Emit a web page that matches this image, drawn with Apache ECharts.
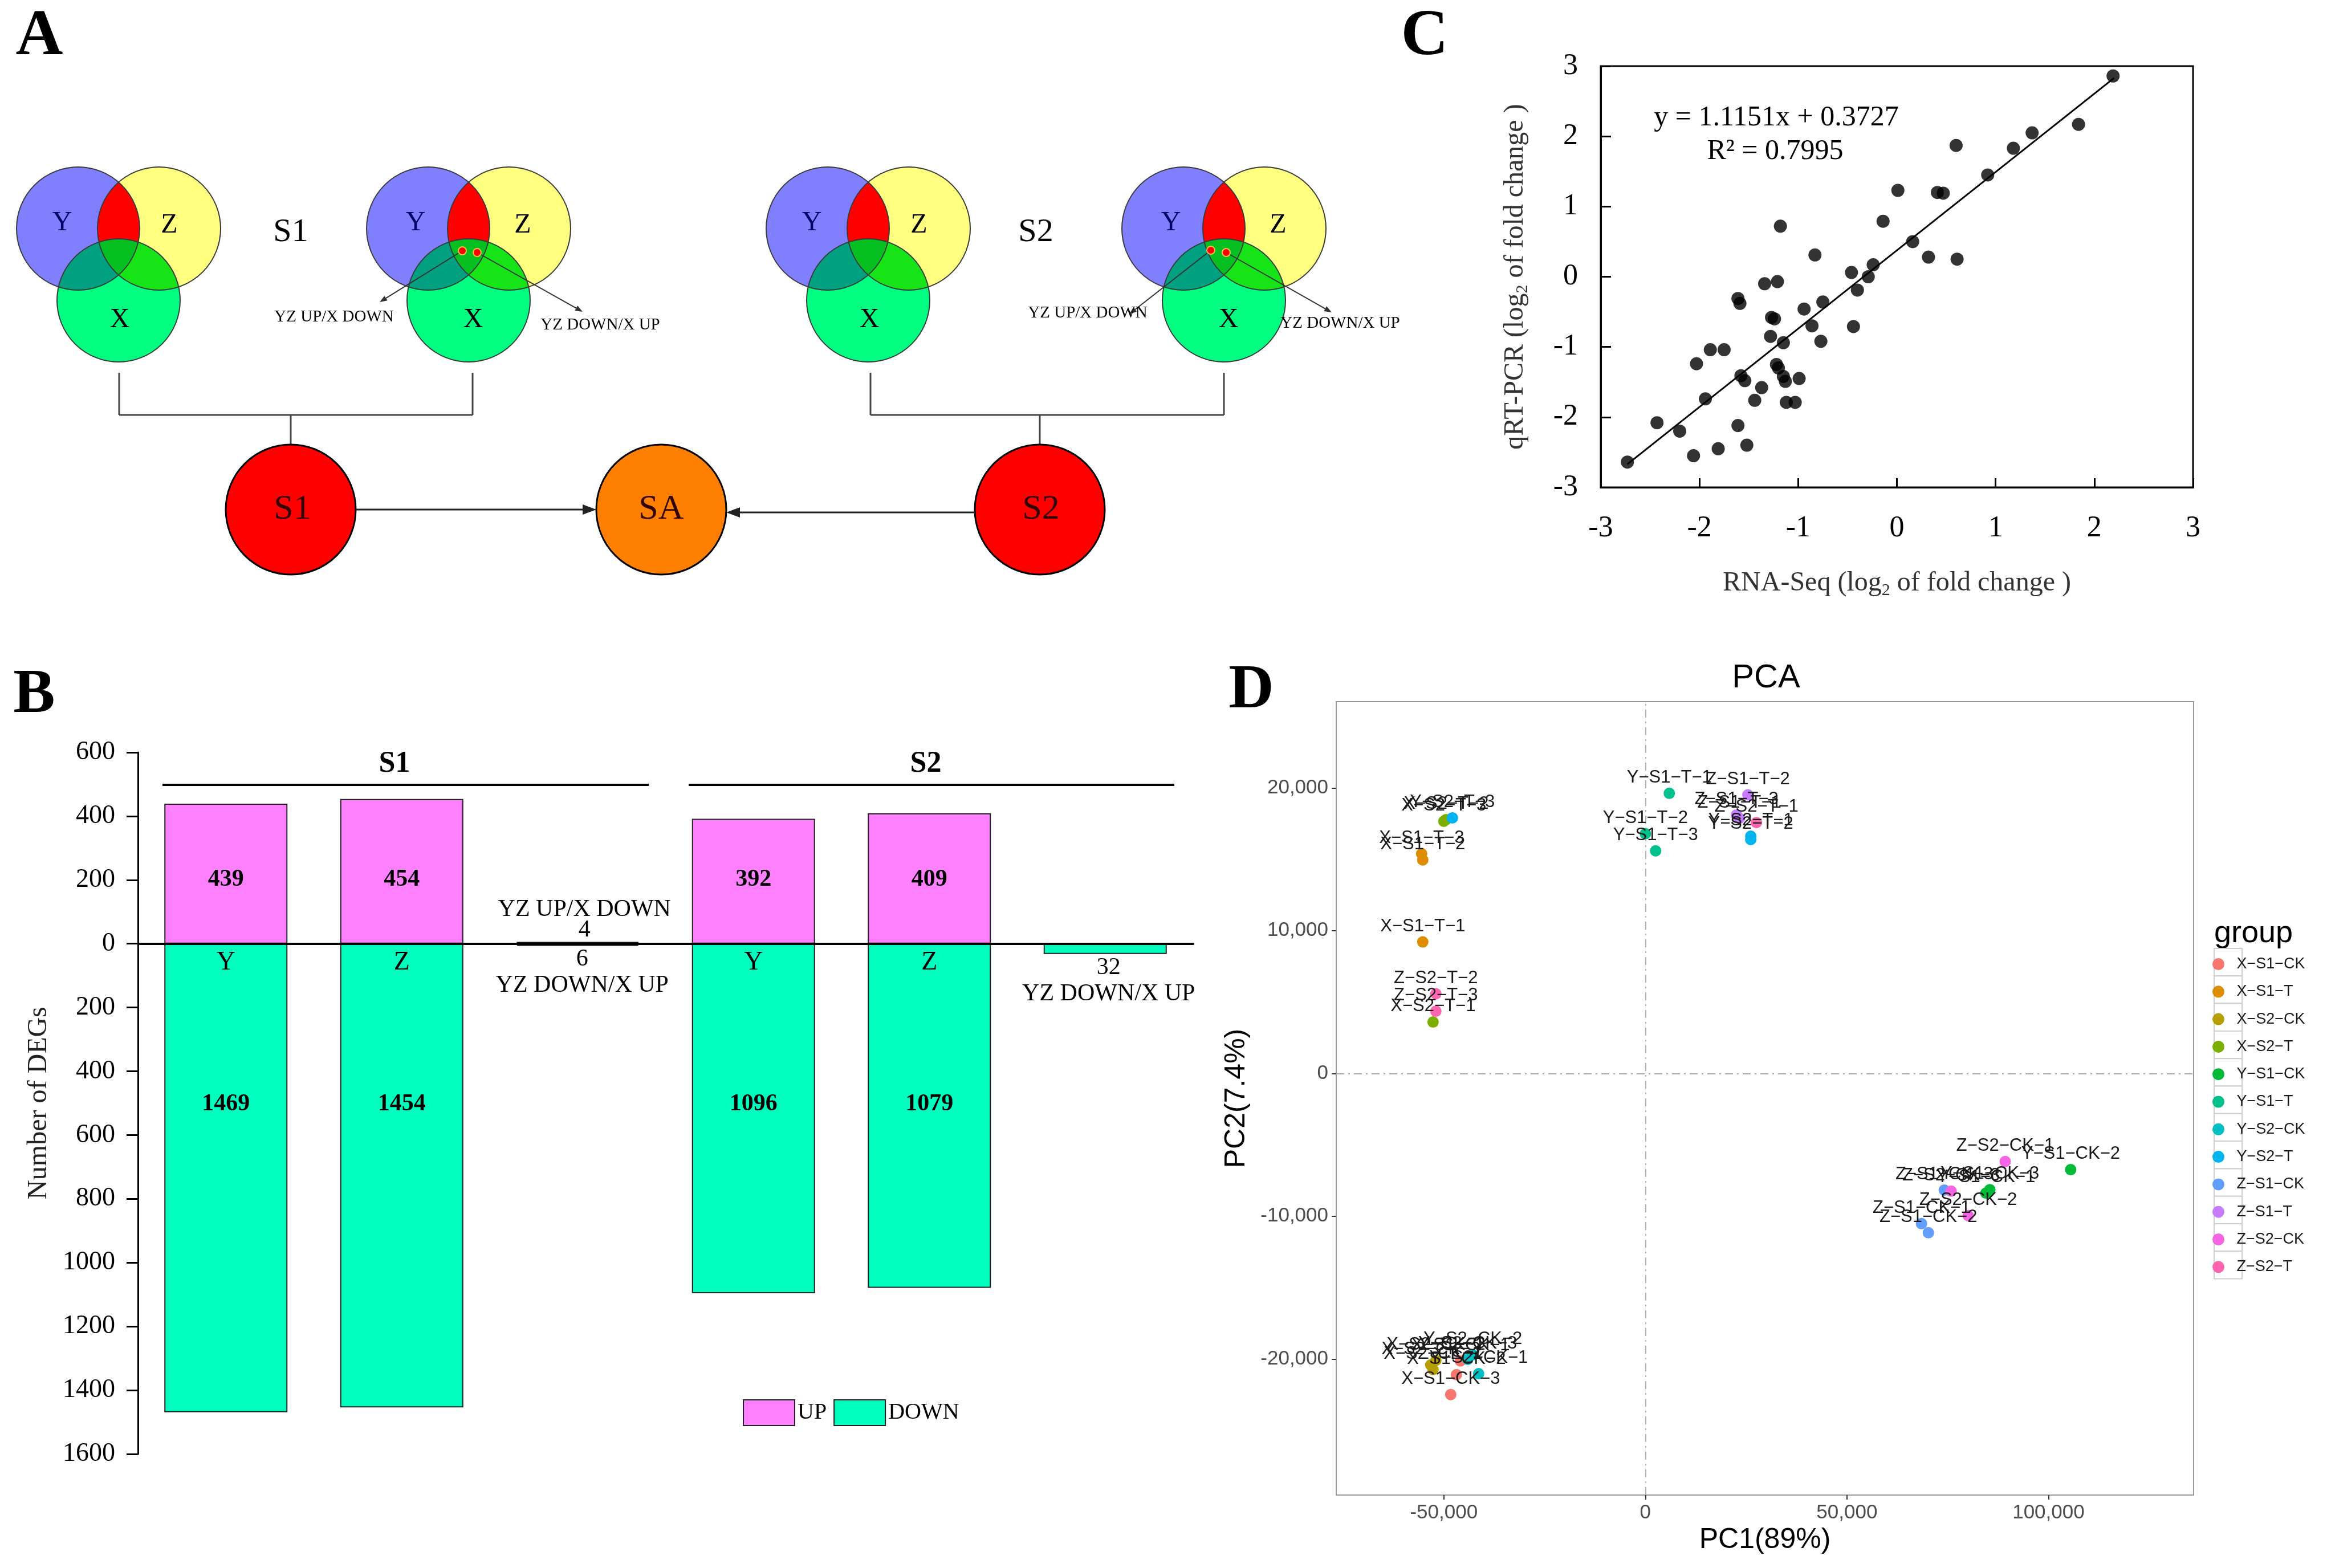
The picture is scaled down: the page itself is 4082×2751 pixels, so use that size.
<!DOCTYPE html>
<html><head><meta charset="utf-8">
<script src="https://cdn.jsdelivr.net/npm/echarts@6/dist/echarts.min.js"></script>
<style>html,body{margin:0;padding:0;background:#fff}#c{width:4082px;height:2751px}</style>
</head><body><div id="c"></div>
<script>
// ---------------- Panel B data ----------------
const degStages = ['S1','S1','S1','S2','S2','S2'];
const degSets = ['Y','Z','YZ/X','Y','Z','YZ/X'];
const degUp = [439, 454, 4, 392, 409, 0];
const degDown = [1469, 1454, 6, 1096, 1079, 32];

// ---------------- Panel C data ----------------
const rnaSeqLog2FC = [2.19,1.84,1.37,1.18,0.60,0.92,0.01,0.41,0.47,-0.14,-1.18,0.16,0.32,0.61,-0.83,-0.24,-0.46,-0.29,-1.34,-1.21,-0.40,-1.61,-1.59,-0.75,-0.94,-1.27,-1.24,-0.86,-0.44,-1.28,-1.15,-0.77,-1.89,-1.75,-2.03,-1.22,-1.20,-1.58,-1.54,-1.15,-1.13,-0.99,-1.37,-1.94,-1.44,-1.12,-1.03,-2.43,-2.20,-1.61,-1.81,-1.52,-2.06,-2.73];
const qpcrLog2FC = [2.86,2.17,2.05,1.83,1.87,1.45,1.23,1.20,1.19,0.79,0.72,0.50,0.28,0.25,0.31,0.17,0.06,0.00,-0.10,-0.07,-0.19,-0.31,-0.38,-0.36,-0.46,-0.58,-0.60,-0.70,-0.71,-0.85,-0.94,-0.92,-1.04,-1.04,-1.24,-1.25,-1.30,-1.41,-1.48,-1.42,-1.49,-1.45,-1.58,-1.74,-1.76,-1.79,-1.79,-2.08,-2.20,-2.12,-2.45,-2.40,-2.55,-2.64];
const fitLineX = [-2.73, 2.20];
const fitLineY = [-2.67, 2.83];
const fitEquation = 'y = 1.1151x + 0.3727';
const fitR2 = 'R² = 0.7995';
const axisTicksC = [-3,-2,-1,0,1,2,3];

// ---------------- Panel D data ----------------
const pcaGroups = ['X-S1-CK','X-S1-T','X-S2-CK','X-S2-T','Y-S1-CK','Y-S1-T','Y-S2-CK','Y-S2-T','Z-S1-CK','Z-S1-T','Z-S2-CK','Z-S2-T'];
const pcaReplicates = ['1','2','3'];
const pcaPC1 = [
  [-45900,-46890,-48300],
  [-55230,-55230,-55510],
  [-52690,-51980,-53250],
  [-52680,-49430,-50000],
  [84460,105510,85450],
  [5930,0,2540],
  [-41380,-42800,-44070],
  [26130,26130,-47880],
  [68500,70200,74150],
  [23300,25420,22600],
  [89260,80080,75850],
  [27540,-51980,-51980]
];
const pcaPC2 = [
  [-20140,-21100,-22490],
  [9210,14950,15390],
  [-20740,-20100,-20420],
  [3600,17780,17660],
  [-8380,-6740,-8140],
  [19620,16790,15590],
  [-21030,-19710,-20030],
  [16620,16380,17900],
  [-10520,-11160,-8170],
  [17870,19510,18110],
  [-6170,-9960,-8240],
  [17570,5580,4360]
];
const pcaTicksX = [-50000,0,50000,100000];
const pcaTicksY = [-20000,-10000,0,10000,20000];

// ---------------- styles ----------------
const pcaColors = ['#F8766D','#DE8C00','#B79F00','#7CAE00','#00BA38','#00C08B','#00BFC4','#00B4F0','#619CFF','#C77CFF','#F564E3','#FF64B0'];
const SERIF = '"Liberation Serif","Times New Roman",serif';
const SANS = '"Liberation Sans",Arial,Helvetica,sans-serif';
const minus = s => String(s).replace(/-/g,'\u2212');

// ---------------- helpers for graphic ----------------
function txt(x, y, text, size, o) {
  o = o || {};
  return {type:'text', x:x, y:y, silent:true,
    style:{text:text, fontSize:size, fontFamily:o.font||SERIF, fontWeight:o.weight||'normal',
      fill:o.color||'#000', textAlign:o.align||'center', textVerticalAlign:o.valign||'middle',
      align:o.align||'center', verticalAlign:o.valign||'middle'}};
}
function seg(x1,y1,x2,y2,w,c){
  return {type:'line', silent:true, shape:{x1:x1,y1:y1,x2:x2,y2:y2}, style:{stroke:c||'#333', lineWidth:w||3}};
}
function arrow(x1,y1,x2,y2,w,head,c){
  const a = Math.atan2(y2-y1,x2-x1);
  const bx = x2-head*Math.cos(a), by = y2-head*Math.sin(a);
  const px = -Math.sin(a)*head*0.38, py = Math.cos(a)*head*0.38;
  return [seg(x1,y1,bx,by,w,c),
    {type:'polygon', silent:true, shape:{points:[[x2,y2],[bx+px,by+py],[bx-px,by-py]]}, style:{fill:c||'#222'}}];
}
function interPoly(cs){
  const pts = [], N = 360;
  cs.forEach((c,i)=>{
    for (let k=0;k<N;k++){
      const a = 2*Math.PI*k/N;
      const p = [c.cx+c.r*Math.cos(a), c.cy+c.r*Math.sin(a)];
      if (cs.every((d,j)=> j===i || ((p[0]-d.cx)**2+(p[1]-d.cy)**2 <= d.r*d.r+0.5))) pts.push(p);
    }
  });
  const mx = pts.reduce((s,p)=>s+p[0],0)/pts.length, my = pts.reduce((s,p)=>s+p[1],0)/pts.length;
  pts.sort((p,q)=>Math.atan2(p[1]-my,p[0]-mx)-Math.atan2(q[1]-my,q[0]-mx));
  return pts;
}
function circleEl(c, fill, stroke, lw){
  return {type:'circle', silent:true, shape:{cx:c.cx, cy:c.cy, r:c.r}, style:{fill:fill, stroke:stroke||null, lineWidth:lw||0}};
}
function polyEl(pts, fill){ return {type:'polygon', silent:true, shape:{points:pts}, style:{fill:fill}}; }

function venn(ox, lox){
  const Y = {cx:137+ox, cy:401, r:108}, Z = {cx:279+ox, cy:401, r:108}, X = {cx:208+ox, cy:527, r:108};
  const e = [];
  e.push(circleEl(Y,'#8080ff'));
  e.push(circleEl(Z,'#ffff80'));
  e.push(polyEl(interPoly([Y,Z]),'#ff0000'));
  e.push(circleEl(X,'#00ff80'));
  e.push(polyEl(interPoly([X,Y]),'#00a080'));
  e.push(polyEl(interPoly([X,Z]),'#16e416'));
  e.push(polyEl(interPoly([X,Y,Z]),'#05c020'));
  [Y,Z,X].forEach(c=>e.push(circleEl(c,'none','#3a3a3a',2)));
  e.push(txt(109+lox,391,'Y',48,{color:'#000066'}));
  e.push(txt(297+lox,395,'Z',48));
  e.push(txt(210+lox,561,'X',48));
  return e;
}

const G = [];
// Panel labels
G.push(txt(69,65,'A',115,{weight:'bold'}));
G.push(txt(60,1221,'B',110,{weight:'bold'}));
G.push(txt(2499,65,'C',115,{weight:'bold'}));
G.push(txt(2195,1213,'D',110,{weight:'bold'}));

// Panel A venns
G.push(...venn(0,0));
G.push(...venn(614,620));
G.push(...venn(1315,1315));
G.push(...venn(1939,1945));
G.push(txt(510,408,'S1',58));
G.push(txt(1817,408,'S2',58));
// red dots + annotation arrows
[[811,440,837,443,666,530,1022,547,586,556,1053,570],[2124,439,2151,443,1981,551,2336,548,1908,549,2351,567]].forEach(a=>{
  G.push(...arrow(a[0],a[1],a[4],a[5],2,13,'#333'));
  G.push(...arrow(a[2],a[3],a[6],a[7],2,13,'#333'));
  G.push({type:'circle', silent:true, shape:{cx:a[0],cy:a[1],r:7}, style:{fill:'#ff0000', stroke:'#e8c040', lineWidth:2}});
  G.push({type:'circle', silent:true, shape:{cx:a[2],cy:a[3],r:7}, style:{fill:'#ff0000', stroke:'#e8c040', lineWidth:2}});
  G.push(txt(a[8],a[9],'YZ UP/X DOWN',29));
  G.push(txt(a[10],a[11],'YZ DOWN/X UP',29));
});
// connectors
[[209,829,510],[1527,2147,1824]].forEach(c=>{
  G.push(seg(c[0],654,c[0],728,3,'#444'));
  G.push(seg(c[1],654,c[1],728,3,'#444'));
  G.push(seg(c[0],728,c[1],728,3,'#444'));
  G.push(seg(c[2],728,c[2],780,3,'#444'));
});
// big circles
G.push(circleEl({cx:510,cy:894,r:114},'#ff0000','#000',3));
G.push(circleEl({cx:1160,cy:894,r:114},'#ff8000','#000',3));
G.push(circleEl({cx:1824,cy:894,r:114},'#ff0000','#000',3));
G.push(txt(513,894,'S1',62,{color:'#300'}));
G.push(txt(1160,894,'SA',62,{color:'#300'}));
G.push(txt(1826,894,'S2',62,{color:'#300'}));
G.push(...arrow(624,894,1046,894,3,24,'#222'));
G.push(...arrow(1710,899,1274,899,3,24,'#222'));

// Panel B brackets
G.push(seg(285,1377,1138,1377,4,'#000'));
G.push(seg(1208,1377,2060,1377,4,'#000'));
G.push(txt(692,1341,'S1',52,{weight:'bold'}));
G.push(txt(1624,1341,'S2',52,{weight:'bold'}));

// Panel C equation
G.push(txt(3116,207,fitEquation,50));
G.push(txt(3114,266,fitR2,50));

// Panel D title, legend title and key boxes
G.push(txt(3098,1190,'PCA',58,{font:SANS}));
G.push(txt(3884,1638,'group',54,{font:SANS, align:'left'}));
for (let i=0;i<pcaGroups.length;i++){
  G.push({type:'rect', silent:true, z:0, shape:{x:3884, y:1664+i*48.3, width:49, height:48.3}, style:{fill:'#fff', stroke:'#cfcfcf', lineWidth:2}});
}

// ---------------- series ----------------
const cats = degSets.map((s,i)=>degStages[i]+' '+s);
const B_TOP = 1320, B_H = 1231, B_MIN = -1600, B_MAX = 600;
const zeroOffset = -B_H * (0 - B_MIN) / (B_MAX - B_MIN);   // moves category axis up onto the zero line
const labelNum = {fontSize:42, fontWeight:'bold', fontFamily:SERIF, color:'#000'};
const upData = degUp.map((v,i)=>{
  const d = {value:v};
  if (degSets[i].length===1) d.label = Object.assign({show:true, position:'insideBottom', distance:92, formatter:p=>String(p.value)}, labelNum);
  else if (v>0) { d.label = {show:true, position:'top', distance:3, offset:[12,0], formatter:p=>'YZ UP/X DOWN\n'+p.value, fontSize:42, lineHeight:36, fontFamily:SERIF, color:'#000'}; d.itemStyle = {color:'#111', borderColor:'#111', borderWidth:4}; }
  else d.itemStyle = {borderWidth:0};
  return d;
});
const downData = degDown.map((v,i)=>{
  const d = {value:-v};
  if (degSets[i].length===1) d.label = Object.assign({show:true, position:'insideTop', distance:260, formatter:p=>String(Math.abs(p.value))}, labelNum);
  else {
    d.label = {show:true, position:'bottom', distance:1, offset:[i===2?8:6,0], formatter:p=>Math.abs(p.value)+'\nYZ DOWN/X UP', fontSize:42, lineHeight:46, fontFamily:SERIF, color:'#000'};
    if (v < 10) d.itemStyle = {color:'#111', borderColor:'#111', borderWidth:4};
  }
  return d;
});

const series = [
  {type:'bar', name:'UP', xAxisIndex:0, yAxisIndex:0, barWidth:216, barGap:'-100%', data:upData,
   itemStyle:{color:'#ff80ff', borderColor:'#222', borderWidth:2}, silent:true, z:3},
  {type:'bar', name:'DOWN', xAxisIndex:0, yAxisIndex:0, barWidth:216, barGap:'-100%', data:downData,
   itemStyle:{color:'#00ffbf', borderColor:'#222', borderWidth:2}, silent:true, z:3},
  {type:'line', xAxisIndex:1, yAxisIndex:1, data:fitLineX.map((x,i)=>[x,fitLineY[i]]), showSymbol:false, symbol:'none',
   lineStyle:{color:'#000', width:3}, silent:true, z:2},
  {type:'scatter', xAxisIndex:1, yAxisIndex:1, data:rnaSeqLog2FC.map((x,i)=>[x,qpcrLog2FC[i]]), symbolSize:23,
   itemStyle:{color:'#000'}, silent:true, z:3}
];
pcaGroups.forEach((g,gi)=>{
  const s = {type:'scatter', name:g, xAxisIndex:2, yAxisIndex:2, symbolSize:20, silent:true,
    itemStyle:{color:pcaColors[gi], opacity:1},
    data: pcaPC1[gi].map((x,i)=>[x, pcaPC2[gi][i], g+'-'+pcaReplicates[i]]),
    label:{show:true, position:'top', distance:2, formatter:p=>minus(p.value[2]), fontSize:31, fontFamily:SANS, color:'#1a1a1a'}};
  if (gi===0) s.markLine = {silent:true, symbol:['none','none'], label:{show:false},
    lineStyle:{color:'#aaaaaa', width:2, type:[14,7,3,7]}, data:[{xAxis:0},{yAxis:0}], z:1};
  series.push(s);
});

const option = {
  backgroundColor:'#fff',
  animation:false,
  graphic:{elements:G},
  grid:[
    {left:242, top:B_TOP, width:1851, height:B_H},
    {left:2808, top:116, width:1039, height:739, show:true, borderColor:'#000', borderWidth:3},
    {left:2344, top:1231, width:1504, height:1392, show:true, borderColor:'#9a9a9a', borderWidth:2}
  ],
  legend:[
    {data:['UP','DOWN'], left:1303, top:2455, itemWidth:90, itemHeight:45, itemGap:12, icon:'rect', padding:0,
     selectedMode:false, itemStyle:{borderColor:'#222', borderWidth:2},
     textStyle:{fontSize:40, fontFamily:SERIF, color:'#000'}},
    {data:pcaGroups, orient:'vertical', left:3881, top:1678, itemWidth:54, itemHeight:21, itemGap:21.3, icon:'circle',
     padding:0, selectedMode:false, formatter:n=>minus(n),
     textStyle:{fontSize:27, fontFamily:SANS, color:'#1a1a1a'}}
  ],
  xAxis:[
    {type:'category', gridIndex:0, data:cats, offset:zeroOffset, z:4,
     axisLine:{onZero:false, lineStyle:{color:'#000', width:4}}, axisTick:{show:false},
     axisLabel:{interval:0, margin:10, fontSize:46, fontFamily:SERIF, color:'#000',
       formatter:v=>{const s=v.split(' ')[1]; return s.length===1?s:'';}}},
    {type:'value', gridIndex:1, min:axisTicksC[0], max:axisTicksC[axisTicksC.length-1], interval:1,
     axisLine:{show:true, onZero:false, lineStyle:{color:'#000', width:3}}, axisTick:{inside:true, length:16, lineStyle:{color:'#000', width:3}},
     splitLine:{show:false}, axisLabel:{fontSize:52, fontFamily:SERIF, color:'#000', margin:46},
     name:'{a|RNA-Seq (log}{s|2}{a| of fold change )}', nameLocation:'middle', nameGap:140,
     nameTextStyle:{rich:{a:{fontSize:48, fontFamily:SERIF, color:'#333', lineHeight:56}, s:{fontSize:30, fontFamily:SERIF, color:'#333', lineHeight:30, verticalAlign:'bottom'}}}},
    {type:'value', gridIndex:2, min:-76700, max:136000,
     axisLine:{show:false, onZero:false}, splitLine:{show:false},
     axisTick:{show:true, customValues:pcaTicksX, length:8, lineStyle:{color:'#333', width:2}},
     axisLabel:{customValues:pcaTicksX, formatter:v=>v.toLocaleString('en-US'), fontSize:35, fontFamily:SANS, color:'#4d4d4d', margin:14},
     name:'PC1(89%)', nameLocation:'middle', nameGap:52, nameTextStyle:{fontSize:50, fontFamily:SANS, color:'#000'}}
  ],
  yAxis:[
    {type:'value', gridIndex:0, min:B_MIN, max:B_MAX, interval:200,
     axisLine:{show:true, onZero:false, lineStyle:{color:'#000', width:3}}, axisTick:{show:true, length:20, lineStyle:{color:'#000', width:3}},
     splitLine:{show:false}, axisLabel:{formatter:v=>String(Math.abs(v)), fontSize:46, fontFamily:SERIF, color:'#000', margin:40},
     name:'Number of DEGs', nameLocation:'middle', nameGap:150, nameTextStyle:{fontSize:48, fontFamily:SERIF, color:'#222'}},
    {type:'value', gridIndex:1, min:axisTicksC[0], max:axisTicksC[axisTicksC.length-1], interval:1,
     axisLine:{show:true, onZero:false, lineStyle:{color:'#000', width:3}}, axisTick:{inside:true, length:18, lineStyle:{color:'#000', width:3}},
     splitLine:{show:false}, axisLabel:{fontSize:52, fontFamily:SERIF, color:'#000', margin:40},
     name:'{a|qRT-PCR (log}{s|2}{a| of fold change )}', nameLocation:'middle', nameGap:122,
     nameTextStyle:{rich:{a:{fontSize:48, fontFamily:SERIF, color:'#333', lineHeight:56}, s:{fontSize:30, fontFamily:SERIF, color:'#333', lineHeight:30, verticalAlign:'bottom'}}}},
    {type:'value', gridIndex:2, min:-29530, max:26040,
     axisLine:{show:false, onZero:false}, splitLine:{show:false},
     axisTick:{show:true, customValues:pcaTicksY, length:8, lineStyle:{color:'#333', width:2}},
     axisLabel:{customValues:pcaTicksY, formatter:v=>v.toLocaleString('en-US'), fontSize:35, fontFamily:SANS, color:'#4d4d4d', margin:14},
     name:'PC2(7.4%)', nameLocation:'middle', nameGap:150, nameTextStyle:{fontSize:50, fontFamily:SANS, color:'#000'}}
  ],
  series:series
};
const chart = echarts.init(document.getElementById('c'), null, {renderer:'canvas'});
chart.setOption(option);
</script></body></html>
